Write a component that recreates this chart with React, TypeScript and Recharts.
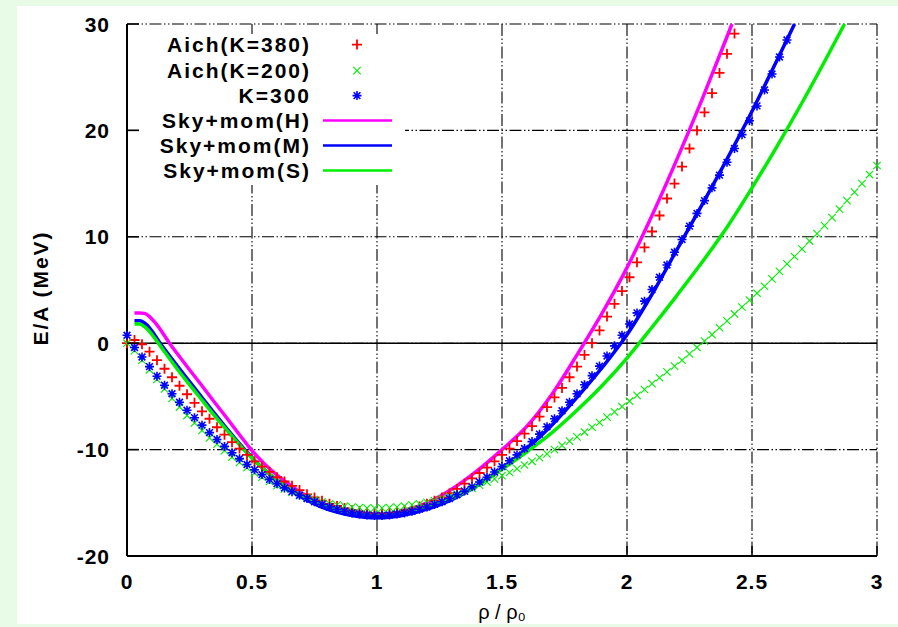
import { ComposedChart, Line, Scatter, XAxis, YAxis, CartesianGrid, ReferenceLine, Legend, Label } from 'recharts'

// density grid shared by the three point series (rho / rho0)
const rho = [
  0, 0.03, 0.06, 0.09, 0.12, 0.15, 0.18, 0.21, 0.24, 0.27,
  0.3, 0.33, 0.36, 0.39, 0.42, 0.45, 0.48, 0.51, 0.54, 0.57,
  0.6, 0.63, 0.66, 0.69, 0.72, 0.75, 0.78, 0.81, 0.84, 0.87,
  0.9, 0.93, 0.96, 0.99, 1.02, 1.05, 1.08, 1.11, 1.14, 1.17,
  1.2, 1.23, 1.26, 1.29, 1.32, 1.35, 1.38, 1.41, 1.44, 1.47,
  1.5, 1.53, 1.56, 1.59, 1.62, 1.65, 1.68, 1.71, 1.74, 1.77,
  1.8, 1.83, 1.86, 1.89, 1.92, 1.95, 1.98, 2.01, 2.04, 2.07,
  2.1, 2.13, 2.16, 2.19, 2.22, 2.25, 2.28, 2.31, 2.34, 2.37,
  2.4, 2.43, 2.46, 2.49, 2.52, 2.55, 2.58, 2.61, 2.64, 2.67,
  2.7, 2.73, 2.76, 2.79, 2.82, 2.85, 2.88, 2.91, 2.94, 2.97,
  3.0,
]

// E/A (MeV)
const aich380 = [
  0, 0.3, -0.1, -0.8, -1.6, -2.4, -3.2, -4.0, -4.8, -5.6,
  -6.4, -7.1, -7.9, -8.6, -9.3, -9.9, -10.5, -11.1, -11.6, -12.1,
  -12.6, -13.0, -13.4, -13.8, -14.2, -14.5, -14.8, -15.1, -15.3, -15.5,
  -15.7, -15.8, -15.9, -16.0, -16.0, -15.95, -15.85, -15.7, -15.55, -15.35,
  -15.1, -14.8, -14.5, -14.1, -13.7, -13.2, -12.7, -12.2, -11.7, -11.1,
  -10.5, -9.9, -9.2, -8.5, -7.8, -6.9, -6.0, -5.1, -4.2, -3.2,
  -2.2, -1.1, 0.0, 1.2, 2.5, 3.7, 4.9, 6.2, 7.6, 9.0,
  10.5, 12.0, 13.6, 15.0, 16.6, 18.3, 20.0, 21.7, 23.5, 25.4,
  27.2, 29.1,
]

const aich200 = [
  0, -0.7, -1.6, -2.5, -3.4, -4.3, -5.2, -6.0, -6.8, -7.5,
  -8.2, -8.9, -9.5, -10.1, -10.7, -11.2, -11.7, -12.2, -12.6, -13.0,
  -13.4, -13.7, -14.0, -14.3, -14.5, -14.7, -14.9, -15.1, -15.2, -15.3,
  -15.4, -15.45, -15.5, -15.5, -15.5, -15.45, -15.4, -15.3, -15.2, -15.1,
  -14.95, -14.8, -14.6, -14.4, -14.15, -13.9, -13.65, -13.35, -13.05, -12.75,
  -12.45, -12.15, -11.8, -11.45, -11.1, -10.75, -10.4, -10.0, -9.6, -9.2,
  -8.8, -8.35, -7.9, -7.45, -6.95, -6.45, -5.95, -5.45, -4.9, -4.35,
  -3.8, -3.25, -2.7, -2.15, -1.6, -1.0, -0.4, 0.2, 0.8, 1.45,
  2.1, 2.75, 3.4, 4.05, 4.7, 5.35, 6.05, 6.75, 7.45, 8.15,
  8.85, 9.6, 10.3, 11.05, 11.8, 12.6, 13.4, 14.2, 15.0, 15.85,
  16.7,
]

const k300 = [
  0.75, -0.4, -1.3, -2.2, -3.1, -3.95, -4.75, -5.55, -6.3, -7.0,
  -7.7, -8.4, -9.05, -9.7, -10.3, -10.85, -11.4, -11.9, -12.35, -12.8,
  -13.2, -13.6, -13.95, -14.3, -14.6, -14.9, -15.15, -15.4, -15.6, -15.8,
  -15.95, -16.05, -16.15, -16.2, -16.2, -16.15, -16.05, -15.95, -15.8, -15.6,
  -15.4, -15.15, -14.9, -14.6, -14.25, -13.9, -13.5, -13.05, -12.6, -12.1,
  -11.6, -11.05, -10.5, -9.9, -9.25, -8.55, -7.85, -7.1, -6.35, -5.55,
  -4.75, -3.9, -3.05, -2.15, -1.2, -0.25, 0.75, 1.8, 2.85, 3.95,
  5.05, 6.2, 7.35, 8.55, 9.75, 11.0, 12.2, 13.4, 14.6, 15.8,
  17.0, 18.3, 19.6, 20.9, 22.3, 23.8, 25.3, 26.9, 28.5,
]

// [rho/rho0, E/A]
const skyH = [
  [0.03, 2.85], [0.05, 2.85], [0.07, 2.8], [0.09, 2.5], [0.11, 2.0], [0.13, 1.4], [0.15, 0.7],
  [0.17, 0.0], [0.2, -0.95], [0.25, -2.5], [0.3, -4.0], [0.35, -5.55], [0.4, -7.05], [0.45, -8.6],
  [0.5, -10.1], [0.55, -11.35], [0.6, -12.4], [0.65, -13.3], [0.7, -14.1], [0.75, -14.7],
  [0.8, -15.2], [0.85, -15.6], [0.9, -15.85], [0.95, -16.05], [1.0, -16.1], [1.05, -16.05],
  [1.1, -15.8], [1.2, -15.0], [1.3, -13.7], [1.4, -12.0], [1.5, -10.0], [1.6, -7.8], [1.7, -4.8],
  [1.8, -1.1], [1.9, 2.8], [2.0, 7.1], [2.1, 12.0], [2.2, 17.3], [2.3, 22.9], [2.4, 28.8], [2.42, 30.0],
]

const skyM = [
  [0.03, 2.1], [0.05, 2.1], [0.07, 1.9], [0.09, 1.45], [0.11, 0.8], [0.13, 0.1], [0.15, -0.55],
  [0.2, -2.1], [0.25, -3.6], [0.3, -5.1], [0.35, -6.6], [0.4, -8.05], [0.45, -9.45], [0.5, -10.75],
  [0.55, -11.9], [0.6, -12.9], [0.65, -13.75], [0.7, -14.5], [0.75, -15.1], [0.8, -15.6],
  [0.85, -15.95], [0.9, -16.2], [0.95, -16.35], [1.0, -16.4], [1.05, -16.35], [1.1, -16.2],
  [1.2, -15.6], [1.3, -14.7], [1.4, -13.4], [1.5, -11.75], [1.6, -9.9], [1.7, -7.7], [1.8, -5.1],
  [1.9, -2.3], [2.0, 0.8], [2.1, 4.6], [2.2, 8.8], [2.3, 13.0], [2.4, 17.3], [2.5, 21.8],
  [2.6, 26.6], [2.67, 30.0],
]

const skyS = [
  [0.03, 1.8], [0.05, 1.8], [0.07, 1.55], [0.09, 1.1], [0.11, 0.5], [0.13, -0.15], [0.15, -0.8],
  [0.2, -2.4], [0.25, -3.9], [0.3, -5.35], [0.35, -6.8], [0.4, -8.2], [0.45, -9.55], [0.5, -10.8],
  [0.55, -11.9], [0.6, -12.85], [0.65, -13.65], [0.7, -14.35], [0.75, -14.9], [0.8, -15.35],
  [0.85, -15.7], [0.9, -15.9], [0.95, -16.0], [1.0, -16.05], [1.05, -16.0], [1.1, -15.85],
  [1.2, -15.35], [1.3, -14.55], [1.4, -13.4], [1.5, -11.85], [1.6, -10.2], [1.7, -8.4], [1.8, -6.3],
  [1.9, -4.0], [2.0, -1.4], [2.1, 1.5], [2.2, 4.5], [2.3, 7.6], [2.4, 10.9], [2.5, 14.6],
  [2.6, 18.5], [2.7, 22.6], [2.8, 26.9], [2.87, 30.0],
]

const xTicks = [0, 0.5, 1, 1.5, 2, 2.5, 3]
const yTicks = [-20, -10, 0, 10, 20, 30]

const toPoints = (vals: number[]) => vals.map((e, i) => ({ r: rho[i], e }))
const toLine = (pairs: number[][]) => pairs.map(([r, e]) => ({ r, e }))

const FONT = '"Liberation Sans", Arial, Helvetica, sans-serif'
const RED = '#ff0000'
const GREEN = '#00ee00'
const BLUE = '#0000ff'
const MAGENTA = '#ff00ff'

function PlusMark({ cx, cy, color = RED, s = 5 }: any) {
  return <path d={`M${cx - s},${cy}H${cx + s}M${cx},${cy - s}V${cy + s}`} stroke={color} strokeWidth={1.8} fill="none" />
}

function CrossMark({ cx, cy, color = GREEN, s = 3.7 }: any) {
  return (
    <path
      d={`M${cx - s},${cy - s}L${cx + s},${cy + s}M${cx - s},${cy + s}L${cx + s},${cy - s}`}
      stroke={color}
      strokeWidth={1.1}
      fill="none"
    />
  )
}

function StarMark({ cx, cy, color = BLUE, s = 4.5 }: any) {
  const d = s * 0.75
  return (
    <path
      d={`M${cx - s},${cy}H${cx + s}M${cx},${cy - s}V${cy + s}M${cx - d},${cy - d}L${cx + d},${cy + d}M${cx - d},${cy + d}L${cx + d},${cy - d}`}
      stroke={color}
      strokeWidth={1.6}
      fill="none"
    />
  )
}

const tickText = { fontFamily: FONT, fontWeight: 700, fontSize: 21, fill: '#000', letterSpacing: 1 }

function BottomTick({ x, y, payload }: any) {
  return (
    <g>
      <line x1={x} x2={x} y1={y} y2={y - 10} stroke="#000" strokeWidth={1.5} />
      <text x={x} y={y + 33} textAnchor="middle" style={tickText}>{payload.value}</text>
    </g>
  )
}

function TopTick({ x, y }: any) {
  return <line x1={x} x2={x} y1={y} y2={y + 10} stroke="#000" strokeWidth={1.5} />
}

function LeftTick({ x, y, payload }: any) {
  return (
    <g>
      <line x1={x} x2={x + 12} y1={y} y2={y} stroke="#000" strokeWidth={1.5} />
      <text x={x - 17} y={y} dy="0.36em" textAnchor="end" style={tickText}>{payload.value}</text>
    </g>
  )
}

function RightTick({ x, y }: any) {
  return <line x1={x} x2={x - 12} y1={y} y2={y} stroke="#000" strokeWidth={1.5} />
}

function YTitle({ viewBox }: any) {
  const cx = viewBox.x + 23
  const cy = viewBox.y + viewBox.height / 2 - 2
  return (
    <text
      x={cx}
      y={cy}
      dy="0.36em"
      textAnchor="middle"
      transform={`rotate(-90, ${cx}, ${cy})`}
      style={{ fontFamily: FONT, fontWeight: 700, fontSize: 21, letterSpacing: 2, fill: '#000' }}
    >
      E/A (MeV)
    </text>
  )
}

function XTitle({ viewBox }: any) {
  return (
    <text
      x={viewBox.x + viewBox.width / 2}
      y={viewBox.y + 63}
      textAnchor="middle"
      style={{ fontFamily: FONT, fontSize: 20, fill: '#000' }}
    >
      ρ / ρ₀
    </text>
  )
}

const legendRows = [
  { name: 'Aich(K=380)', kind: 'plus' },
  { name: 'Aich(K=200)', kind: 'cross' },
  { name: 'K=300', kind: 'star' },
  { name: 'Sky+mom(H)', kind: 'line', color: MAGENTA },
  { name: 'Sky+mom(M)', kind: 'line', color: BLUE },
  { name: 'Sky+mom(S)', kind: 'line', color: GREEN },
]

function KeyBox() {
  return (
    <div style={{ position: 'relative', width: 264, height: 151, background: '#fff' }}>
      {legendRows.map((row, i) => {
        const top = -1.6 + i * 25.2
        return (
          <div key={row.name} style={{ position: 'absolute', left: 0, top, width: 264, height: 25.2 }}>
            <div
              style={{
                position: 'absolute',
                right: 264 - 170,
                top: 0,
                lineHeight: '25.2px',
                fontFamily: FONT,
                fontWeight: 700,
                fontSize: 21,
                letterSpacing: 2,
                whiteSpace: 'nowrap',
                color: '#000',
              }}
            >
              {row.name}
            </div>
            <svg style={{ position: 'absolute', left: 170, top: 0 }} width={90} height={25.2}>
              {row.kind === 'plus' && <PlusMark cx={46} cy={12.6} />}
              {row.kind === 'cross' && <CrossMark cx={46} cy={12.6} />}
              {row.kind === 'star' && <StarMark cx={46} cy={12.6} />}
              {row.kind === 'line' && <line x1={12} x2={81} y1={12.6} y2={12.6} stroke={row.color} strokeWidth={2.5} />}
            </svg>
          </div>
        )
      })}
    </div>
  )
}

export default function App() {
  return (
    <div style={{ position: 'absolute', left: 0, top: 0, width: 898, height: 627, background: '#e7fbe6' }}>
      <div style={{ position: 'absolute', left: 17, top: 6, width: 881, height: 618, background: '#fff', overflow: 'hidden' }}>
        <ComposedChart width={881} height={618} margin={{ top: 18, right: 21, bottom: 0, left: 0 }}>
          <CartesianGrid stroke="#000" strokeWidth={1.1} strokeDasharray="12 2.5 1.5 2.5 1.5 2.5" />
          <XAxis
            xAxisId={0}
            dataKey="r"
            type="number"
            domain={[0, 3]}
            ticks={xTicks}
            interval={0}
            height={68}
            tickSize={0}
            tickMargin={0}
            tickLine={false}
            tick={(p: any) => <BottomTick {...p} />}
            axisLine={{ stroke: '#000', strokeWidth: 2 }}
          >
            <Label content={XTitle} />
          </XAxis>
          <XAxis
            xAxisId="top"
            orientation="top"
            type="number"
            domain={[0, 3]}
            allowDataOverflow
            ticks={xTicks}
            interval={0}
            height={0}
            tickSize={0}
            tickMargin={0}
            tickLine={false}
            tick={(p: any) => <TopTick {...p} />}
            axisLine={{ stroke: '#000', strokeWidth: 2 }}
          />
          <YAxis
            yAxisId={0}
            dataKey="e"
            type="number"
            domain={[-20, 30]}
            ticks={yTicks}
            interval={0}
            width={110}
            tickSize={0}
            tickMargin={0}
            tickLine={false}
            tick={(p: any) => <LeftTick {...p} />}
            axisLine={{ stroke: '#000', strokeWidth: 2 }}
          >
            <Label content={YTitle} />
          </YAxis>
          <YAxis
            yAxisId="right"
            orientation="right"
            type="number"
            domain={[-20, 30]}
            allowDataOverflow
            ticks={yTicks}
            interval={0}
            width={0}
            tickSize={0}
            tickMargin={0}
            tickLine={false}
            tick={(p: any) => <RightTick {...p} />}
            axisLine={{ stroke: '#000', strokeWidth: 2 }}
          />
          <ReferenceLine y={0} stroke="#000" strokeWidth={1.5} />
          <Legend
            layout="vertical"
            align="center"
            verticalAlign="middle"
            content={() => <KeyBox />}
            wrapperStyle={{ left: 124, top: 28, width: 264, height: 151 }}
          />

          <Scatter name="Aich(K=380)" data={toPoints(aich380)} isAnimationActive={false} shape={(p: any) => <PlusMark cx={p.cx} cy={p.cy} />} />
          <Scatter name="Aich(K=200)" data={toPoints(aich200)} isAnimationActive={false} shape={(p: any) => <CrossMark cx={p.cx} cy={p.cy} />} />
          <Scatter name="K=300" data={toPoints(k300)} isAnimationActive={false} shape={(p: any) => <StarMark cx={p.cx} cy={p.cy} />} />

          <Line name="Sky+mom(H)" data={toLine(skyH)} dataKey="e" type="monotone" stroke={MAGENTA} strokeWidth={3.5} dot={false} isAnimationActive={false} />
          <Line name="Sky+mom(M)" data={toLine(skyM)} dataKey="e" type="monotone" stroke={BLUE} strokeWidth={3.5} dot={false} isAnimationActive={false} />
          <Line name="Sky+mom(S)" data={toLine(skyS)} dataKey="e" type="monotone" stroke={GREEN} strokeWidth={3.5} dot={false} isAnimationActive={false} />
        </ComposedChart>
      </div>
    </div>
  )
}
